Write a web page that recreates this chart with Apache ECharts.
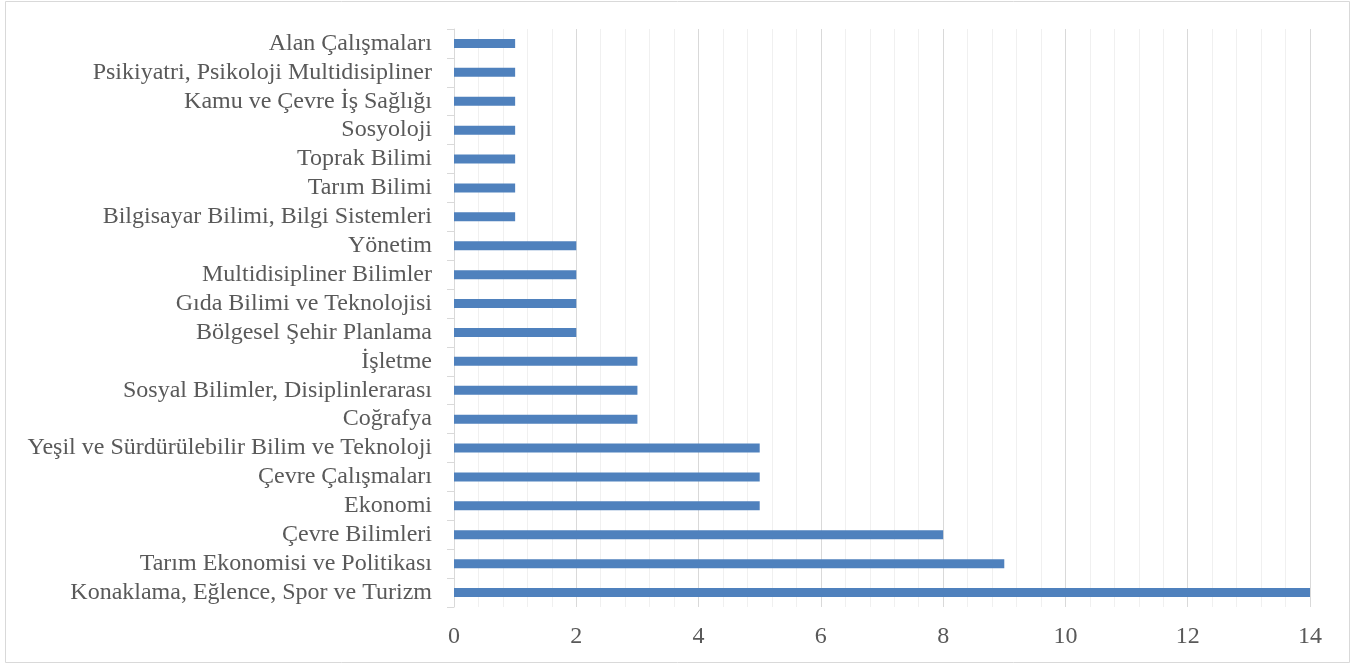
<!DOCTYPE html>
<html><head><meta charset="utf-8">
<script src="https://cdn.jsdelivr.net/npm/echarts@6/dist/echarts.min.js"></script>
<style>html,body{margin:0;padding:0;background:#fff}#c{width:1352px;height:665px}</style>
</head><body><div id="c"></div>
<script>
const categories = [
  "Konaklama, Eğlence, Spor ve Turizm",
  "Tarım Ekonomisi ve Politikası",
  "Çevre Bilimleri",
  "Ekonomi",
  "Çevre Çalışmaları",
  "Yeşil ve Sürdürülebilir Bilim ve Teknoloji",
  "Coğrafya",
  "Sosyal Bilimler, Disiplinlerarası",
  "İşletme",
  "Bölgesel Şehir Planlama",
  "Gıda Bilimi ve Teknolojisi",
  "Multidisipliner Bilimler",
  "Yönetim",
  "Bilgisayar Bilimi, Bilgi Sistemleri",
  "Tarım Bilimi",
  "Toprak Bilimi",
  "Sosyoloji",
  "Kamu ve Çevre İş Sağlığı",
  "Psikiyatri, Psikoloji Multidisipliner",
  "Alan Çalışmaları"
];
const values = [14, 9, 8, 5, 5, 5, 3, 3, 3, 2, 2, 2, 2, 1, 1, 1, 1, 1, 1, 1];

const chart = echarts.init(document.getElementById('c'));
const font = "'Liberation Serif', 'Times New Roman', serif";
chart.setOption({
  animation: false,
  graphic: [{
    type: 'rect', left: 5, top: 1, z: -1,
    shape: {width: 1344, height: 661},
    style: {fill: '#fff', stroke: '#d9d9d9', lineWidth: 1}
  }],
  grid: {left: 454, right: 42, top: 29, bottom: 58, containLabel: false},
  xAxis: {
    type: 'value', min: 0, max: 14, interval: 2,
    axisLine: {show: false}, axisTick: {show: false},
    axisLabel: {color: '#595959', fontFamily: font, fontSize: 24, margin: 18},
    splitLine: {show: true, lineStyle: {color: '#d9d9d9', width: 1}},
    minorTick: {show: false, splitNumber: 5},
    minorSplitLine: {show: true, lineStyle: {color: '#f0f0f0', width: 1}}
  },
  yAxis: {
    type: 'category', data: categories,
    axisLine: {show: true, lineStyle: {color: '#d9d9d9', width: 1}},
    axisTick: {show: true, length: 7, interval: 0, lineStyle: {color: '#d9d9d9'}},
    axisLabel: {color: '#595959', fontFamily: font, fontSize: 24, lineHeight: 24, margin: 22, interval: 0},
    splitLine: {show: false}
  },
  series: [{
    type: 'bar', data: values, barWidth: 9,
    itemStyle: {color: '#4f81bd'}
  }]
});
</script></body></html>
